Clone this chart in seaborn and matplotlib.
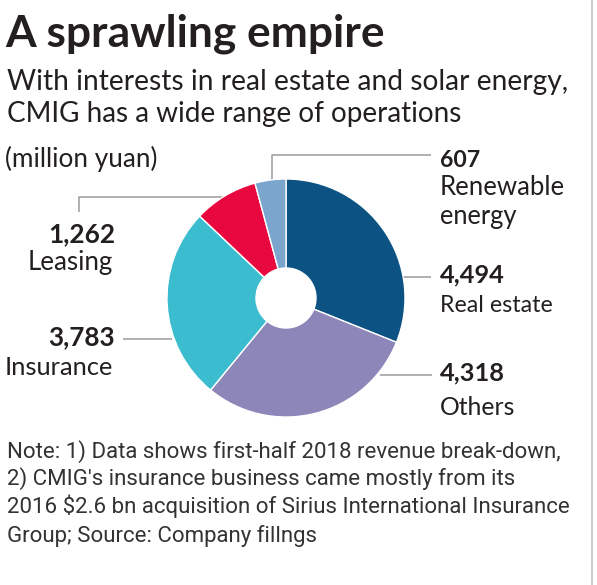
import matplotlib
matplotlib.use("Agg")
import matplotlib.pyplot as plt
import seaborn as sns
import pandas as pd
from matplotlib import font_manager as fm

# ---- data ----
categories = ["Real estate", "Others", "Insurance", "Leasing", "Renewable\nenergy"]
values = [4494, 4318, 3783, 1262, 607]
colors = ["#0c5384", "#8d86b8", "#3cbdcf", "#e8083f", "#7ba5cc"]
title = "A sprawling empire"
subtitle = ["With interests in real estate and solar energy,",
            "CMIG has a wide range of operations"]
unit = "(million yuan)"
notes = ["Note: 1) Data shows first-half 2018 revenue break-down,",
         "2) CMIG's insurance business came mostly from its",
         "2016 $2.6 bn acquisition of Sirius International Insurance",
         "Group; Source: Company fillngs"]

df = pd.DataFrame({"category": categories, "value": values, "color": colors})

sns.set_theme(style="white")
avail = {f.name for f in fm.fontManager.ttflist}
main_font = "Lato" if "Lato" in avail else "DejaVu Sans"
note_font = "Liberation Sans Narrow" if "Liberation Sans Narrow" in avail else "Roboto"
plt.rcParams["font.family"] = [main_font, "DejaVu Sans"]

W, H = 597, 585
fig = plt.figure(figsize=(W / 100, H / 100), dpi=100)
fig.patch.set_facecolor("white")
ax = fig.add_axes([0, 0, 1, 1])

def Y(y):
    return H - y

cx, cy, R, hole = 286, 298, 119, 30
ax.pie(df["value"], colors=sns.color_palette(df["color"].tolist()),
       startangle=90, counterclock=False, center=(cx, Y(cy)), radius=R,
       wedgeprops=dict(width=R - hole, edgecolor="white", linewidth=1.0),
       frame=True)

ax.set_xlim(0, W)
ax.set_ylim(0, H)
ax.set_aspect("equal")
ax.axis("off")

lc = "#9b9b9b"
lw = 1.1
leaders = [
    [(272, 186), (272, 155), (431, 155)],   # renewable
    [(79, 212), (79, 197), (226, 197)],     # leasing
    [(123, 339), (172, 339)],               # insurance
    [(400, 277), (431, 277)],               # real estate
    [(380, 375), (432, 375)],               # others
]
for pts in leaders:
    xs = [p[0] for p in pts]
    ys = [Y(p[1]) for p in pts]
    ax.plot(xs, ys, color=lc, lw=lw, zorder=0, solid_capstyle="butt")

# right border
ax.plot([592, 592], [0, H], color="#cfcfcf", lw=1.5, zorder=5)

renderer = fig.canvas.get_renderer()
tc = "#231f20"

def fit(x, y, s, target_w, ha="left", weight="normal", family=None, size0=18,
        color=tc):
    fam = [family or main_font, "DejaVu Sans"]
    t = ax.text(x, Y(y), s, ha=ha, va="baseline", fontsize=size0,
                fontweight=weight, family=fam, color=color)
    w = t.get_window_extent(renderer=renderer).width
    t.set_fontsize(size0 * target_w / w)
    return t.get_fontsize()

fit(5, 47, title, 380, weight="bold")
fit(7, 90, subtitle[0], 557)
fit(7, 122, subtitle[1], 453)
fit(5, 167, unit, 152)

# right labels
fit(440, 167, f"{values[4]:,}", 40, weight="bold")
fit(440, 195, "Renewable", 125)
fit(440, 224, "energy", 77)
fit(440, 282, f"{values[0]:,}", 65, weight="bold")
fit(440, 312, categories[0], 113)
fit(440, 380, f"{values[1]:,}", 65, weight="bold")
fit(440, 415, categories[1], 75)
# left labels
fit(115, 242, f"{values[3]:,}", 67, ha="right", weight="bold")
fit(113, 270, categories[3], 85, ha="right")
fit(115, 345, f"{values[2]:,}", 67, ha="right", weight="bold")
fit(113, 375, categories[2], 108, ha="right")

# notes
ns = fit(7, 458, notes[0], 553, family=note_font, color="#333333")
for line, yb in zip(notes[1:], [485, 513, 542]):
    ax.text(7, Y(yb), line, ha="left", va="baseline", fontsize=ns,
            color="#333333", family=[note_font, "DejaVu Sans"])

fig.savefig("out.png", dpi=100, facecolor="white")
